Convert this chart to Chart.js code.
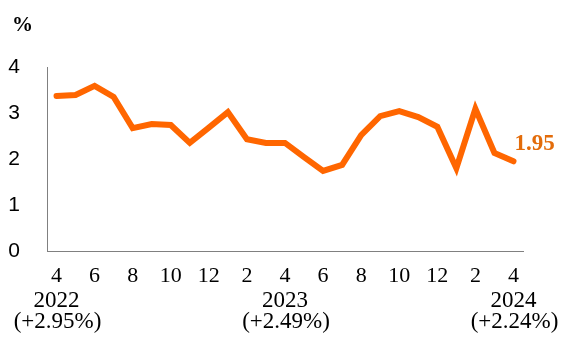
<!DOCTYPE html>
<html>
<head>
<meta charset="utf-8">
<script src="https://cdn.jsdelivr.net/npm/chart.js@4.4.1/dist/chart.umd.min.js"></script>
<style>
  html, body { margin: 0; padding: 0; background: #fff; }
  #cpiChart { display: block; }
</style>
</head>
<body>
<canvas id="cpiChart" width="563" height="338"></canvas>
<script>
// monthly rate, Apr 2022 .. Apr 2024
var months = [4, 5, 6, 7, 8, 9, 10, 11, 12, 1, 2, 3, 4, 5, 6, 7, 8, 9, 10, 11, 12, 1, 2, 3, 4];
var rates = [3.37, 3.39, 3.59, 3.35, 2.67, 2.76, 2.74, 2.35, 2.68, 3.02, 2.43, 2.35, 2.35,
             2.04, 1.74, 1.87, 2.52, 2.93, 3.04, 2.91, 2.70, 1.80, 3.09, 2.13, 1.95];
var yearIndex = [0, 12, 24];
var years = ["2022", "2023", "2024"];
var yearAvg = ["(+2.95%)", "(+2.49%)", "(+2.24%)"];
var yTicks = [0, 1, 2, 3, 4];

var ORANGE = "#FF6600";

var extraText = {
    id: "extraText",
    afterDraw: function (chart) {
        var ctx = chart.ctx;
        var xs = chart.scales.x;
        ctx.save();
        ctx.fillStyle = "#000";
        ctx.font = "bold 21px 'Liberation Serif'";
        ctx.textBaseline = "alphabetic";
        ctx.fillText("%", 12, 31);

        // year and yearly average under the month ticks
        ctx.font = "23px 'Liberation Serif'";
        ctx.textAlign = "center";
        ctx.textBaseline = "middle";
        yearIndex.forEach(function (idx, k) {
            var x = xs.getPixelForValue(idx);
            ctx.fillText(years[k], x, 301);
            ctx.fillText(yearAvg[k], x + 1, 322);
        });

        // value label at the last point
        var last = rates.length - 1;
        var px = xs.getPixelForValue(last);
        var py = chart.scales.y.getPixelForValue(rates[last]);
        ctx.fillStyle = "#E36C0A";
        ctx.font = "bold 23px 'Liberation Serif'";
        ctx.textAlign = "left";
        ctx.textBaseline = "alphabetic";
        ctx.fillText(rates[last].toFixed(2), px + 1, py - 11);
        ctx.restore();
    }
};

new Chart(document.getElementById("cpiChart"), {
    type: "line",
    data: {
        labels: months.map(String),
        datasets: [{
            data: rates,
            borderColor: ORANGE,
            borderWidth: 6,
            borderCapStyle: "round",
            pointRadius: 0,
            tension: 0,
            fill: false
        }]
    },
    options: {
        responsive: false,
        animation: false,
        layout: { padding: { top: 67, right: 40, left: 0, bottom: 0 } },
        plugins: {
            legend: { display: false },
            tooltip: { enabled: false }
        },
        scales: {
            x: {
                offset: true,
                grid: { display: false, drawTicks: false },
                border: { display: true, color: "#808080", width: 1, dash: [4, 3] },
                ticks: {
                    autoSkip: false,
                    maxRotation: 0,
                    padding: 12,
                    color: "#000",
                    font: { family: "'Liberation Serif'", size: 22 },
                    callback: function (value, index) {
                        return index % 2 === 0 ? String(months[index]) : "";
                    }
                },
                afterFit: function (scale) { scale.height = 87; }
            },
            y: {
                min: 0,
                max: 4,
                afterBuildTicks: function (scale) {
                    scale.ticks = yTicks.map(function (v) { return { value: v }; });
                },
                grid: { display: false, drawTicks: false },
                border: { display: true, color: "#808080", width: 1 },
                ticks: {
                    padding: 27,
                    color: "#000",
                    font: { family: "'Liberation Sans'", size: 21 }
                },
                afterFit: function (scale) { scale.width = 47; }
            }
        }
    },
    plugins: [extraText]
});
</script>
</body>
</html>
